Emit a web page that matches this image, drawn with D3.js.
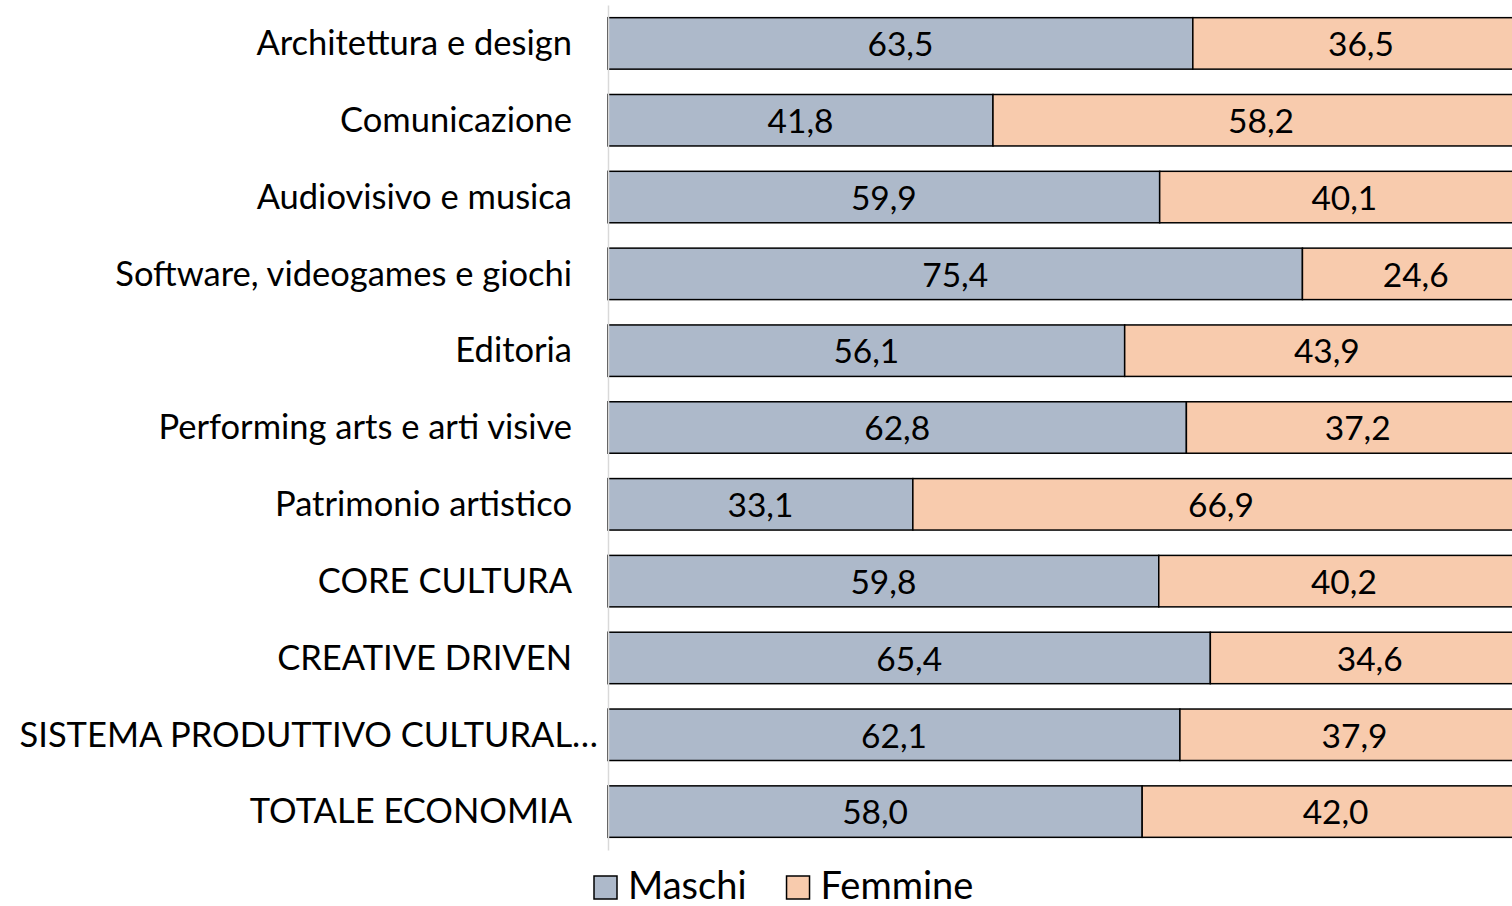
<!DOCTYPE html>
<html>
<head>
<meta charset="utf-8">
<script src="https://cdn.jsdelivr.net/npm/d3@7"></script>
<style>
  body { margin: 0; background: #fff; overflow: hidden; }
  text { font-family: Lato, "Open Sans", sans-serif; fill: #000; }
</style>
</head>
<body>
<div id="chart"></div>
<script>
// data
const categories = [
    "Architettura e design",
    "Comunicazione",
    "Audiovisivo e musica",
    "Software, videogames e giochi",
    "Editoria",
    "Performing arts e arti visive",
    "Patrimonio artistico",
    "CORE CULTURA",
    "CREATIVE DRIVEN",
    "SISTEMA PRODUTTIVO CULTURALE E CREATIVO",
    "TOTALE ECONOMIA"
];
const maschi = [63.5, 41.8, 59.9, 75.4, 56.1, 62.8, 33.1, 59.8, 65.4, 62.1, 58.0];
const femmine = [36.5, 58.2, 40.1, 24.6, 43.9, 37.2, 66.9, 40.2, 34.6, 37.9, 42.0];
const seriesNames = ["Maschi", "Femmine"];
const colors = ["#adb9ca", "#f8cbad"];

const W = 1512, H = 906;
const svg = d3.select("#chart").append("svg")
    .attr("width", W).attr("height", H);

const x = d3.scaleLinear().domain([0, 100]).range([608, 1529]);
const y = d3.scaleBand().domain(categories).range([5, 850]).paddingInner(0.33).paddingOuter(0.165);

const rows = categories.map((c, i) => ({ cat: c, Maschi: maschi[i], Femmine: femmine[i] }));
const stacked = d3.stack().keys(seriesNames)(rows);

const fmt = v => v.toFixed(1).replace(".", ",");

stacked.forEach((s, si) => {
    const g = svg.append("g");
    g.selectAll("rect")
        .data(s)
        .enter()
        .append("rect")
        .attr("x", d => x(d[0]))
        .attr("y", d => y(d.data.cat))
        .attr("width", d => x(d[1]) - x(d[0]))
        .attr("height", y.bandwidth())
        .attr("fill", colors[si])
        .attr("stroke", "#000")
        .attr("stroke-width", 1.5);
    g.selectAll("text")
        .data(s)
        .enter()
        .append("text")
        .attr("x", d => (x(d[0]) + x(d[1])) / 2)
        .attr("y", d => y(d.data.cat) + y.bandwidth() / 2)
        .attr("dy", "0.38em")
        .attr("text-anchor", "middle")
        .attr("font-size", 33.5)
        .text(d => fmt(d[1] - d[0]));
});

// category axis
const axisG = svg.append("g")
    .attr("transform", "translate(608,0)")
    .call(d3.axisLeft(y).tickSize(0).tickPadding(36));
axisG.select(".domain").attr("stroke", "#d9d9d9").attr("stroke-width", 1.5);
axisG.selectAll("text")
    .attr("font-size", 34.5)
    .attr("dy", "0.34em")
    .style("font-family", "Lato, 'Open Sans', sans-serif")
    .attr("fill", "#000")
    .each(function () {
        // truncate long labels like Excel does
        const el = d3.select(this);
        const maxW = 592;
        let t = el.text();
        if (this.getComputedTextLength() > maxW) {
            while (t.length > 1 && this.getComputedTextLength() > maxW) {
                t = t.slice(0, -1);
                el.text(t.trimEnd() + "…");
            }
            el.attr("x", -10);
        }
    });

// legend
const legend = svg.append("g").attr("transform", "translate(594,885)");
let lx = 0;
seriesNames.forEach((n, i) => {
    const item = legend.append("g").attr("transform", "translate(" + lx + ",0)");
    item.append("rect")
        .attr("x", 0).attr("y", -9)
        .attr("width", 23).attr("height", 23)
        .attr("fill", colors[i])
        .attr("stroke", "#000").attr("stroke-width", 1.5);
    const t = item.append("text")
        .attr("x", 34).attr("y", 0).attr("dy", "0.36em")
        .attr("font-size", 38)
        .text(n);
    lx += 34 + t.node().getComputedTextLength() + 40;
});
</script>
</body>
</html>
